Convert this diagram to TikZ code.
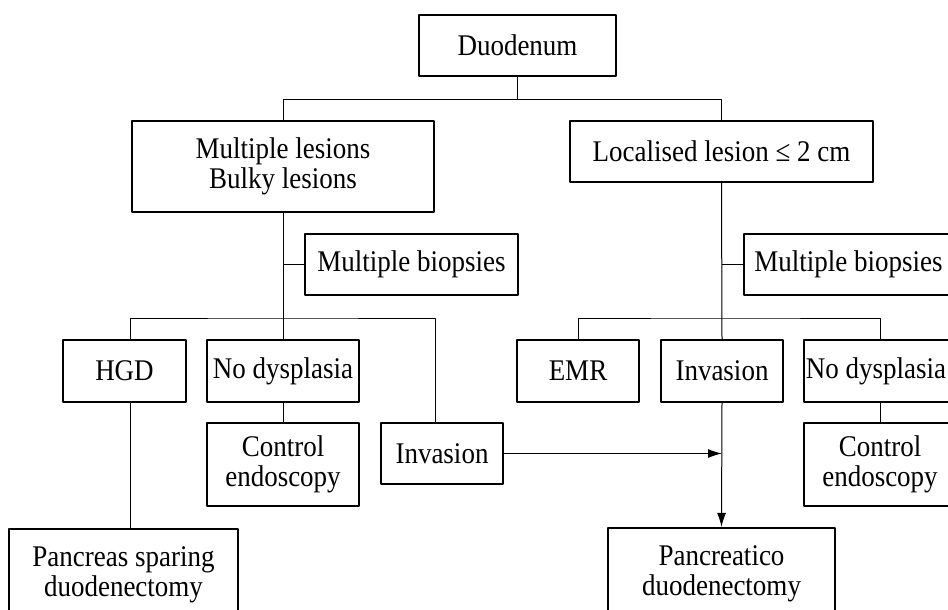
\documentclass[tikz,border=0pt]{standalone}
\usepackage{fontspec}
\setmainfont{Liberation Serif}[FakeStretch=0.9]
\usetikzlibrary{arrows.meta}
\begin{document}
\begin{tikzpicture}[x=0.5pt,y=-0.5pt,>={Latex[length=7pt,width=4.5pt]},
  font=\fontsize{15}{15}\selectfont, line join=round,
  box/.style={draw,line width=1.1pt,align=center,inner sep=0pt},
  link/.style={line width=0.5pt}]
\useasboundingbox (0,0) rectangle (948,610);
\clip (0,0) rectangle (948,610);
% boxes
\node[box,minimum width=98.5pt,minimum height=30.5pt] (duo) at (517.5,45.5) {Duodenum};
\node[box,minimum width=151pt,minimum height=45.5pt] (multi) at (283,166.5) {Multiple lesions\\Bulky lesions};
\node[box,minimum width=151.5pt,minimum height=30.5pt] (local) at (721.5,151.5) {Localised lesion ≤ 2 cm};
\node[box,minimum width=106.5pt,minimum height=30.5pt] (biopL) at (411.5,264.5) {Multiple biopsies};
\node[box,minimum width=106.5pt,minimum height=30.5pt] (biopR) at (850.5,264.5) {Multiple biopsies\hspace*{2pt}};
\node[box,minimum width=61.5pt,minimum height=31pt] (hgd) at (124.5,371) {HGD};
\node[box,minimum width=76pt,minimum height=31pt] (nodysL) at (283,371) {No dysplasia};
\node[box,minimum width=76pt,minimum height=41.5pt] (ctrlL) at (283,464.5) {Control\\endoscopy};
\node[box,minimum width=61pt,minimum height=30.5pt] (invL) at (442,453.5) {Invasion};
\node[box,minimum width=61pt,minimum height=31pt] (emr) at (578,371) {EMR};
\node[box,minimum width=61pt,minimum height=31pt] (invR) at (722,371) {Invasion};
\node[box,minimum width=76pt,minimum height=31pt] (nodysR) at (880,371) {No dysplasia\hspace*{4pt}};
\node[box,minimum width=76pt,minimum height=41.5pt] (ctrlR) at (880,464.5) {Control\\endoscopy};
\node[box,minimum width=114.5pt,minimum height=45.5pt] (psd) at (123.5,574.5) {Pancreas sparing\\duodenectomy};
\node[box,minimum width=113.5pt,minimum height=45.5pt] (pd) at (721.5,573.5) {Pancreatico\\duodenectomy};
% connectors
\coordinate (jl) at (283,318);
\coordinate (jr) at (722,318);
\draw[link] (duo.south) -- ++(0,22) -| (multi.north);
\draw[link] (duo.south) -- ++(0,22) -| (local.north);
\draw[link] (multi.south) -- (nodysL.north);
\draw[link] (biopL.west) -- (biopL.west -| multi.south);
\draw[link] (multi.west |- hgd.north) |- (jl) -| (multi.east |- invL.north);
\draw[link] (multi.west |- hgd.south) -- (multi.west |- psd.north);
\draw[link] (nodysL.south) -- (ctrlL.north);
\draw[link,->] (invL.east) -- (invR.south |- invL.east);
\draw[link] (local.south) -- (invR.north);
\draw[link] (biopR.west) -- (biopR.west -| local.south);
\draw[link] (emr.north) |- (jr) -| (nodysR.north);
\draw[link] (nodysR.south) -- (ctrlR.north);
\draw[link,->] (invR.south) -- (pd.north);
\end{tikzpicture}
\end{document}
